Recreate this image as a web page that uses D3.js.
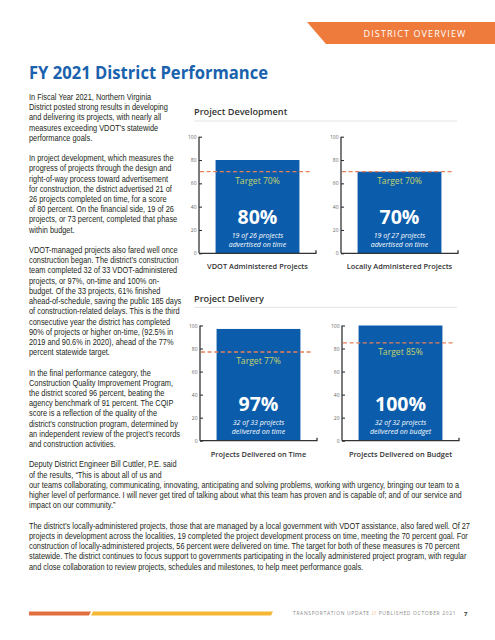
<!DOCTYPE html>
<html>
<head>
<meta charset="utf-8">
<script src="https://cdn.jsdelivr.net/npm/d3@7"></script>
<style>
  html, body { margin: 0; padding: 0; background: #fff; }
  svg { display: block; }
</style>
</head>
<body>
<svg id="page" width="495" height="640"></svg>
<script>
// ---------------- DATA ----------------
const headerLabel = "DISTRICT OVERVIEW";
const pageTitle = "FY 2021 District Performance";
const panelTitles = ["Project Development", "Project Delivery"];
const categories = ["VDOT Administered Projects", "Locally Administered Projects",
                    "Projects Delivered on Time", "Projects Delivered on Budget"];
const values = [80, 70, 97, 100];
const targets = [70, 70, 77, 85];
const noteTop = ["19 of 26 projects", "19 of 27 projects", "32 of 33 projects", "32 of 32 projects"];
const noteBottom = ["advertised on time", "advertised on time", "delivered on time", "delivered on budget"];
const yTicks = [0, 20, 40, 60, 80, 100];
const footerParts = ["TRANSPORTATION UPDATE ", "//", " PUBLISHED OCTOBER 2021"];
const pageNumber = "7";
const bodyLines = [
"In Fiscal Year 2021, Northern Virginia",
"District posted strong results in developing",
"and delivering its projects, with nearly all",
"measures exceeding VDOT\u2019s statewide",
"performance goals.",
"",
"In project development, which measures the",
"progress of projects through the design and",
"right-of-way process toward advertisement",
"for construction, the district advertised 21 of",
"26 projects completed on time, for a score",
"of 80 percent. On the financial side, 19 of 26",
"projects, or 73 percent, completed that phase",
"within budget.",
"",
"VDOT-managed projects also fared well once",
"construction began. The district\u2019s construction",
"team completed 32 of 33 VDOT-administered",
"projects, or 97%, on-time and 100% on-",
"budget. Of the 33 projects, 61% finished",
"ahead-of-schedule, saving the public 185 days",
"of construction-related delays. This is the third",
"consecutive year the district has completed",
"90% of projects or higher on-time, (92.5% in",
"2019 and 90.6% in 2020), ahead of the 77%",
"percent statewide target.",
"",
"In the final performance category, the",
"Construction Quality Improvement Program,",
"the district scored 96 percent, beating the",
"agency benchmark of 91 percent. The CQIP",
"score is a reflection of the quality of the",
"district\u2019s construction program, determined by",
"an independent review of the project\u2019s records",
"and construction activities.",
"",
"Deputy District Engineer Bill Cuttler, P.E. said",
"of the results, \u201CThis is about all of us and",
"our teams collaborating, communicating, innovating, anticipating and solving problems, working with urgency, bringing our team to a",
"higher level of performance. I will never get tired of talking about what this team has proven and is capable of; and of our service and",
"impact on our community.\u201D",
"",
"The district\u2019s locally-administered projects, those that are managed by a local government with VDOT assistance, also fared well. Of 27",
"projects in development across the localities, 19 completed the project development process on time, meeting the 70 percent goal. For",
"construction of locally-administered projects, 56 percent were delivered on time. The target for both of these measures is 70 percent",
"statewide. The district continues to focus support to governments participating in the locally administered project program, with regular",
"and close collaboration to review projects, schedules and milestones, to help meet performance goals."
];

// ---------------- STYLE / LAYOUT ----------------
const BLUE = "#0b5cab";
const ORANGE = "#ee7a3c";
const TEXT = "#231f20";
const svg = d3.select("#page");
const SANS = "'Open Sans', 'Noto Sans', sans-serif";
const BODY = "'Liberation Sans Narrow', 'Liberation Sans', Arial, sans-serif";

// header banner
svg.append("polygon")
  .attr("points", "307,22 495,22 495,44 326,44")
  .attr("fill", ORANGE);
svg.append("text")
  .attr("x", 415).attr("y", 36.5)
  .attr("text-anchor", "middle")
  .attr("font-family", SANS).attr("font-size", 9).attr("font-weight", 400)
  .attr("letter-spacing", 1.1)
  .attr("fill", "#fff")
  .text(headerLabel);

// title
svg.append("text")
  .attr("x", 29).attr("y", 79)
  .attr("font-family", SANS).attr("font-size", 18).attr("font-weight", 700)
  .attr("fill", "#1a62ad")
  .attr("textLength", 239).attr("lengthAdjust", "spacingAndGlyphs")
  .text(pageTitle);

// body text
const bodyG = svg.append("g");
const bodyTexts = bodyG.selectAll("text").data(bodyLines).join("text")
  .attr("font-family", BODY).attr("font-size", 8.2)
  .attr("fill", TEXT)
  .text(d => d);
const refIdx = 38;
const natural = bodyTexts.nodes()[refIdx].getComputedTextLength();
const sx = 430 / natural;
bodyTexts.attr("transform", (d, i) => `translate(29,${(99.9 + i * 10.21).toFixed(2)}) scale(${sx.toFixed(4)},1)`);

// panel headings and rules
const headingY = [115.3, 301.5];
const ruleY = [121, 307.3];
panelTitles.forEach((t, i) => {
  svg.append("text")
    .attr("x", 194).attr("y", headingY[i])
    .attr("font-family", SANS).attr("font-size", 9.2).attr("font-weight", 600)
    .attr("fill", "#333")
    .text(t);
  svg.append("line")
    .attr("x1", 194).attr("x2", 457).attr("y1", ruleY[i]).attr("y2", ruleY[i])
    .attr("stroke", "#e3e3e3").attr("stroke-width", 1);
});

// charts
const layout = [
  { x: 199, y0: 253.3, y1: 136.7 },
  { x: 341, y0: 253.3, y1: 136.7 },
  { x: 200, y0: 440.7, y1: 325.5 },
  { x: 342, y0: 440.7, y1: 325.5 }
];
const plotW = 117;

categories.forEach((cat, i) => {
  const L = layout[i];
  const g = svg.append("g");
  const y = d3.scaleLinear().domain([0, 100]).range([L.y0, L.y1]);
  const x = d3.scaleBand().domain([cat]).range([L.x, L.x + plotW]).padding(0.165);

  // bar
  g.append("rect")
    .attr("x", x(cat)).attr("width", x.bandwidth())
    .attr("y", y(values[i])).attr("height", y(0) - y(values[i]))
    .attr("fill", BLUE);

  // y axis
  const yAxis = d3.axisLeft(y).tickValues(yTicks).tickSize(-3).tickPadding(2.5);
  const ya = g.append("g").attr("transform", `translate(${L.x},0)`).call(yAxis);
  ya.select(".domain").attr("stroke", "#333").attr("stroke-width", 1.3)
    .attr("d", `M0,${L.y0}V${L.y1}`);
  ya.selectAll(".tick line").attr("stroke", "#333").attr("stroke-width", 1.1);
  ya.selectAll(".tick text").attr("font-family", SANS).attr("font-size", 5).attr("fill", "#666");

  // x axis
  const xa = g.append("g").attr("transform", `translate(0,${L.y0})`)
    .call(d3.axisBottom(x).tickSize(0).tickFormat(""));
  xa.select(".domain").attr("stroke", "#333").attr("stroke-width", 1.3)
    .attr("d", `M${L.x},0H${L.x + plotW}V-3`);

  // target line
  g.append("line")
    .attr("x1", L.x + 1).attr("x2", L.x + 112)
    .attr("y1", y(targets[i])).attr("y2", y(targets[i]))
    .attr("stroke", "#e8805a").attr("stroke-width", 1.3)
    .attr("stroke-dasharray", "4,2.6");

  const cx = x(cat) + x.bandwidth() / 2;
  g.append("text")
    .attr("x", cx).attr("y", y(targets[i]) + 12.5)
    .attr("text-anchor", "middle")
    .attr("font-family", SANS).attr("font-size", 8.6)
    .attr("fill", "#c5d46c")
    .text(`Target ${targets[i]}%`);

  g.append("text")
    .attr("x", cx).attr("y", y(0) - 29.7)
    .attr("text-anchor", "middle")
    .attr("font-family", SANS).attr("font-size", 19.5).attr("font-weight", 700)
    .attr("fill", "#fff")
    .text(`${values[i]}%`);

  g.append("text")
    .attr("x", cx).attr("y", y(0) - 15.4)
    .attr("text-anchor", "middle")
    .attr("font-family", SANS).attr("font-size", 7).attr("font-style", "italic")
    .attr("fill", "#fff")
    .text(noteTop[i]);
  g.append("text")
    .attr("x", cx).attr("y", y(0) - 6.7)
    .attr("text-anchor", "middle")
    .attr("font-family", SANS).attr("font-size", 7).attr("font-style", "italic")
    .attr("fill", "#fff")
    .text(noteBottom[i]);

  g.append("text")
    .attr("x", cx).attr("y", y(0) + 15.8)
    .attr("text-anchor", "middle")
    .attr("font-family", SANS).attr("font-size", 7.4).attr("font-weight", 600)
    .attr("fill", "#333")
    .text(cat);
});

// footer
svg.append("polygon").attr("points", "29,611.5 91,611.5 89,615.5 29,615.5").attr("fill", "#e2703e");
svg.append("polygon").attr("points", "93,611.5 273,611.5 271,615.5 91,615.5").attr("fill", "#f6b834");
const ft = svg.append("text")
  .attr("x", 293).attr("y", 615.3)
  .attr("font-family", SANS).attr("font-size", 4.9).attr("letter-spacing", 0.5)
  .attr("fill", "#8a8a8a")
  .attr("textLength", 163).attr("lengthAdjust", "spacing");
ft.selectAll("tspan").data(footerParts).join("tspan")
  .attr("fill", (d, i) => i === 1 ? "#f0a040" : "#8a8a8a")
  .text(d => d);
svg.append("text")
  .attr("x", 464).attr("y", 615.5)
  .attr("font-family", SANS).attr("font-size", 6).attr("font-weight", 700)
  .attr("fill", "#333")
  .text(pageNumber);
</script>
</body>
</html>
